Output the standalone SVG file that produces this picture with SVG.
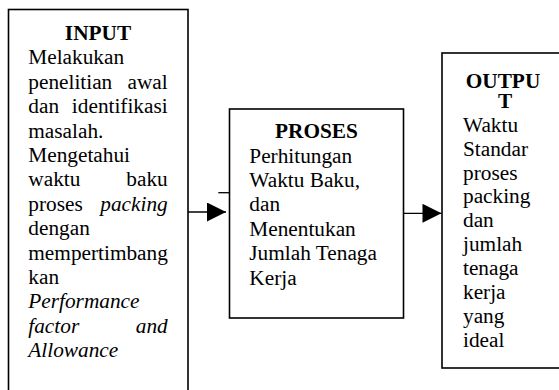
<svg xmlns="http://www.w3.org/2000/svg" width="559" height="390" viewBox="0 0 559 390">
<style>
.box{fill:#fff;stroke:#000;stroke-width:1.6}
.t{font-family:"Liberation Serif","Times New Roman",serif;font-size:21.3px;fill:#000}
.b{font-weight:bold}
.i{font-style:italic}
.c{text-anchor:middle}
.e{text-anchor:end}
.ln{stroke:#000;stroke-width:1.3;fill:none}
</style>
<defs>
<marker id="ah" viewBox="0 0 10 10" refX="10" refY="5" markerWidth="20" markerHeight="19" markerUnits="userSpaceOnUse" orient="auto">
<path d="M0,0 L10,5 L0,10 Z" fill="#000"/>
</marker>
</defs>
<rect width="559" height="390" fill="#fff"/>
<g id="input">
<rect class="box" x="8.5" y="9.5" width="179.5" height="400"/>
<text class="t b c" x="98" y="40">INPUT</text>
<text class="t" x="28.3" y="64.4">Melakukan</text>
<text class="t" x="28.3" y="88.8">penelitian</text><text class="t e" x="167.7" y="88.8">awal</text>
<text class="t" x="28.3" y="113.2">dan</text><text class="t e" x="167.7" y="113.2">identifikasi</text>
<text class="t" x="28.3" y="137.6">masalah.</text>
<text class="t" x="28.3" y="162">Mengetahui</text>
<text class="t" x="28.3" y="186.4">waktu</text><text class="t e" x="167.7" y="186.4">baku</text>
<text class="t" x="28.3" y="210.8">proses</text><text class="t i e" x="167.7" y="210.8">packing</text>
<text class="t" x="28.3" y="235.2">dengan</text>
<text class="t" x="28.3" y="259.6">mempertimbang</text>
<text class="t" x="28.3" y="284">kan</text>
<text class="t i" x="28.3" y="308.4">Performance</text>
<text class="t i" x="28.3" y="332.8">factor</text><text class="t i e" x="167.7" y="332.8">and</text>
<text class="t i" x="28.3" y="357.2">Allowance</text>
</g>
<g id="proses">
<rect class="box" x="229.5" y="109" width="174" height="209"/>
<text class="t b c" x="316.5" y="138">PROSES</text>
<text class="t" x="249.3" y="162.6">Perhitungan</text>
<text class="t" x="249.3" y="187">Waktu Baku,</text>
<text class="t" x="249.3" y="211.4">dan</text>
<text class="t" x="249.3" y="235.8">Menentukan</text>
<text class="t" x="249.3" y="260.2">Jumlah Tenaga</text>
<text class="t" x="249.3" y="284.6">Kerja</text>
</g>
<g id="output">
<rect class="box" x="442" y="53" width="130" height="315"/>
<text class="t b c" x="503" y="87.5">OUTPU</text>
<text class="t b c" x="505" y="108">T</text>
<text class="t" x="463" y="131.7">Waktu</text>
<text class="t" x="463" y="155.6">Standar</text>
<text class="t" x="463" y="179.5">proses</text>
<text class="t" x="463" y="203.4">packing</text>
<text class="t" x="463" y="227.3">dan</text>
<text class="t" x="463" y="251.2">jumlah</text>
<text class="t" x="463" y="275.1">tenaga</text>
<text class="t" x="463" y="299">kerja</text>
<text class="t" x="463" y="322.9">yang</text>
<text class="t" x="463" y="346.8">ideal</text>
</g>
<g id="connectors">
<line class="ln" x1="188" y1="212" x2="226" y2="212" marker-end="url(#ah)"/>
<line class="ln" x1="218.3" y1="192.7" x2="229" y2="192.7"/>
<line class="ln" x1="404" y1="213.3" x2="441.5" y2="213.3" marker-end="url(#ah)"/>
</g>
</svg>
